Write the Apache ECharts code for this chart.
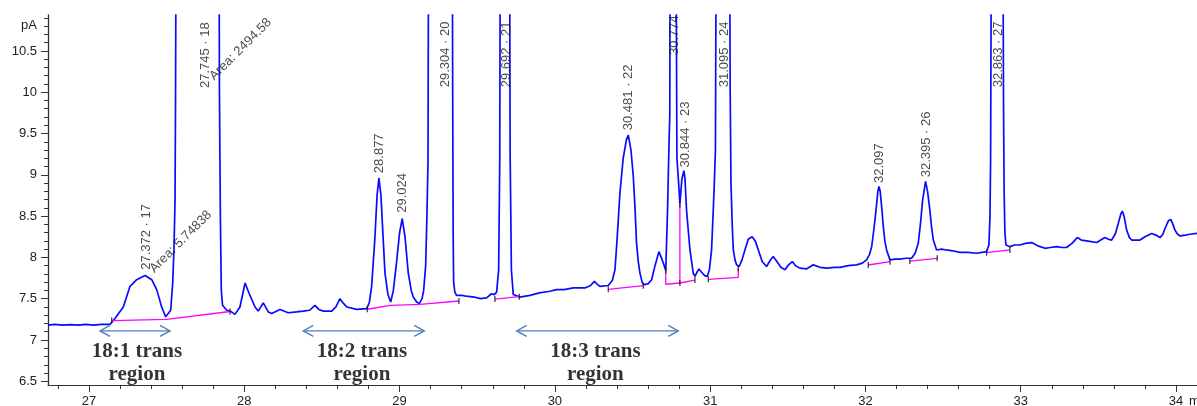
<!DOCTYPE html>
<html><head><meta charset="utf-8">
<script src="https://cdn.jsdelivr.net/npm/echarts@6/dist/echarts.min.js"></script>
<style>html,body{margin:0;padding:0;background:#fff}#c{width:1197px;height:406px}</style>
</head><body><div id="c"></div>
<script>
// ---- data ----
const xTicks = [27, 28, 29, 30, 31, 32, 33, 34];
const yTicks = [6.5, 7, 7.5, 8, 8.5, 9, 9.5, 10, 10.5];

// detector signal [retention time (min), pA]
const signal = [
[26.736,7.18],[26.78,7.19],[26.83,7.18],[26.88,7.185],[26.93,7.18],[26.98,7.19],[27.03,7.18],[27.08,7.19],[27.135,7.19],
[27.167,7.26],[27.221,7.40],[27.264,7.65],[27.307,7.73],[27.361,7.78],[27.404,7.73],[27.436,7.61],[27.468,7.40],[27.494,7.28],[27.50,7.26],
[27.526,7.36],[27.539,7.69],[27.547,8.09],[27.554,8.69],[27.557,9.78],[27.56,11.5],[27.70,30],[27.838,11.5],[27.840,10.0],[27.846,8.5],
[27.852,7.6],[27.86,7.42],[27.887,7.36],[27.91,7.35],[27.94,7.31],[27.972,7.40],[28.005,7.69],[28.032,7.56],[28.069,7.40],[28.09,7.35],
[28.122,7.45],[28.155,7.34],[28.176,7.32],[28.23,7.37],[28.283,7.33],[28.337,7.34],
[28.38,7.35],[28.42,7.36],[28.455,7.42],[28.48,7.37],[28.509,7.35],[28.563,7.35],[28.59,7.40],[28.616,7.50],[28.64,7.44],[28.66,7.40],
[28.724,7.37],[28.788,7.38],[28.805,7.45],[28.82,7.65],[28.84,8.2],[28.855,8.75],[28.867,8.96],[28.88,8.75],[28.895,8.2],[28.906,7.81],
[28.925,7.55],[28.943,7.46],[28.96,7.6],[28.98,7.93],[29.0,8.30],[29.017,8.47],[29.035,8.25],[29.056,7.81],[29.075,7.6],[29.088,7.52],
[29.11,7.46],[29.127,7.44],[29.145,7.50],[29.155,7.60],[29.168,7.9],[29.176,8.5],[29.183,9.15],[29.186,11.5],[29.26,30],[29.340,11.5],
[29.342,10.0],[29.345,8.3],[29.348,7.70],[29.356,7.58],[29.367,7.54],[29.40,7.54],[29.43,7.53],[29.48,7.52],[29.52,7.50],[29.56,7.51],
[29.592,7.56],[29.61,7.55],[29.625,7.58],[29.638,7.85],[29.645,9.18],[29.648,11.5],[29.68,30],[29.709,11.5],[29.712,9.24],[29.72,7.85],
[29.732,7.55],[29.775,7.52],[29.84,7.54],[29.90,7.57],[29.968,7.59],[30.011,7.61],[30.06,7.61],[30.118,7.63],[30.194,7.63],[30.23,7.66],
[30.254,7.71],[30.27,7.68],[30.29,7.65],[30.344,7.66],[30.37,7.72],[30.387,7.85],[30.40,8.2],[30.419,8.78],[30.44,9.20],[30.46,9.42],
[30.473,9.48],[30.49,9.30],[30.505,8.98],[30.516,8.6],[30.526,8.17],[30.537,7.95],[30.548,7.81],[30.562,7.70],[30.574,7.67],[30.60,7.68],
[30.623,7.73],[30.645,7.90],[30.67,8.07],[30.685,8.0],[30.702,7.91],[30.714,7.84],[30.726,8.6],[30.735,9.38],[30.740,9.72],[30.742,11.5],
[30.76,30],[30.781,11.5],[30.786,9.2],[30.797,8.9],[30.805,8.65],[30.818,8.95],[30.831,9.05],[30.838,8.95],[30.848,8.57],[30.87,8.09],
[30.891,7.81],[30.902,7.77],[30.915,7.82],[30.928,7.86],[30.945,7.82],[30.965,7.78],[30.981,7.77],[30.995,7.85],[31.009,8.09],[31.025,8.8],
[31.034,9.3],[31.038,11.5],[31.08,30],[31.126,11.5],[31.129,10.0],[31.134,8.9],[31.142,8.4],[31.149,8.09],[31.16,7.97],[31.17,7.91],
[31.187,7.89],[31.205,7.97],[31.224,8.09],[31.245,8.22],[31.27,8.25],[31.29,8.2],[31.31,8.09],[31.335,7.95],[31.363,7.89],[31.385,7.96],
[31.406,8.01],[31.43,7.95],[31.455,7.88],[31.482,7.85],[31.505,7.91],[31.529,7.95],[31.55,7.90],[31.578,7.87],[31.62,7.86],[31.664,7.91],
[31.707,7.88],[31.75,7.87],[31.80,7.88],[31.836,7.88],[31.89,7.90],[31.943,7.91],[31.98,7.93],[32.007,7.97],[32.025,8.03],[32.04,8.13],
[32.055,8.35],[32.068,8.57],[32.080,8.80],[32.087,8.86],[32.095,8.80],[32.105,8.6],[32.115,8.37],[32.125,8.2],[32.136,8.09],[32.158,7.97],
[32.19,7.98],[32.222,7.98],[32.26,7.99],[32.297,7.99],[32.32,8.05],[32.34,8.17],[32.355,8.42],[32.368,8.69],[32.387,8.92],[32.40,8.8],
[32.415,8.57],[32.425,8.38],[32.437,8.21],[32.458,8.09],[32.49,8.10],[32.522,8.09],[32.56,8.08],[32.608,8.06],[32.66,8.06],[32.716,8.05],
[32.75,8.06],[32.78,8.07],[32.795,8.15],[32.802,8.5],[32.806,9.2],[32.810,11.5],[32.85,30],[32.886,11.5],[32.889,9.9],[32.893,8.8],
[32.898,8.3],[32.905,8.15],[32.93,8.13],[32.96,8.15],[32.995,8.15],[33.03,8.17],[33.07,8.18],[33.11,8.14],[33.156,8.11],[33.19,8.12],
[33.231,8.13],[33.265,8.12],[33.295,8.12],[33.33,8.17],[33.364,8.24],[33.39,8.21],[33.424,8.20],[33.455,8.19],[33.489,8.18],[33.515,8.21],
[33.542,8.24],[33.565,8.22],[33.585,8.21],[33.61,8.29],[33.628,8.41],[33.645,8.53],[33.654,8.56],[33.665,8.50],[33.682,8.33],[33.70,8.24],
[33.714,8.21],[33.74,8.21],[33.768,8.21],[33.80,8.25],[33.843,8.29],[33.87,8.27],[33.897,8.24],[33.915,8.28],[33.929,8.35],[33.95,8.44],
[33.966,8.46],[33.98,8.40],[33.993,8.33],[34.01,8.28],[34.026,8.26],[34.06,8.27],[34.09,8.28],[34.135,8.29]
];

// integration baselines (each a separate segment)
const baselines = [
  [[27.146,7.235],[27.50,7.25],[27.908,7.345]],
  [[28.792,7.372],[28.942,7.42],[29.131,7.432],[29.382,7.472]],
  [[29.614,7.496],[29.771,7.524]],
  [[30.344,7.614],[30.569,7.657]],
  [[30.714,7.84],[30.714,7.675],[30.805,7.69],[30.902,7.725]],
  [[30.805,8.64],[30.805,7.69]],
  [[30.988,7.735],[31.181,7.759],[31.181,7.87]],
  [[32.018,7.908],[32.158,7.948]],
  [[32.286,7.956],[32.462,7.989]],
  [[32.780,8.057],[32.930,8.09]]
];

// peak labels [time, pA at label foot, text]
const peakLabels = [
  [27.373, 7.85, '27.372 · 17'],
  [27.747, 10.05, '27.745 · 18'],
  [28.869, 9.02, '28.877'],
  [29.017, 8.54, '29.024'],
  [29.297, 10.06, '29.304 · 20'],
  [29.685, 10.06, '29.692 · 21'],
  [30.473, 9.54, '30.481 · 22'],
  [30.773, 10.45, '30.774'],
  [30.838, 9.09, '30.844 · 23'],
  [31.095, 10.06, '31.095 · 24'],
  [32.093, 8.90, '32.097'],
  [32.394, 8.97, '32.395 · 26'],
  [32.855, 10.06, '32.863 · 27']
];
const areaLabels = [
  [27.405, 7.84, 'Area: 5.74838'],
  [27.790, 10.17, 'Area: 2494.58']
];

// trans regions: [from, to, pA of arrow]
const regionArrows = [[27.071, 27.522, 7.11], [28.38, 29.159, 7.11], [29.754, 30.795, 7.11]];
const regionTexts = [[27.309, 6.715, '18:1 trans\nregion'], [28.758, 6.715, '18:2 trans\nregion'], [30.261, 6.715, '18:3 trans\nregion']];

// ---- chart ----
const X_MIN = 26.736, X_MAX = 34.135, Y_MIN = 6.455, Y_MAX = 10.935;
const xMinor = [], yMinor = [];
for (let i = 134; i <= 170; i++) { const v = +(i * 0.2).toFixed(1); if (v > X_MIN && v < X_MAX) xMinor.push(v); }
for (let i = 65; i <= 109; i++) { const v = +(i * 0.1).toFixed(1); if (v > Y_MIN && v < Y_MAX) yMinor.push(v); }

const FONT = 'Liberation Sans, Arial, sans-serif';
const AX = '#333';
const chart = echarts.init(document.getElementById('c'), null, {renderer: 'canvas'});

const series = [
  { type: 'line', data: signal, showSymbol: false, clip: true, silent: true, z: 2,
    lineStyle: { color: '#0a0aff', width: 1.7 } }
];
baselines.forEach(seg => series.push({
  type: 'line', data: seg, showSymbol: false, silent: true, z: 3,
  lineStyle: { color: '#ff00ff', width: 1.3 }
}));
series.push({
  type: 'scatter', silent: true, z: 4, symbol: 'rect', symbolSize: [1.3, 6],
  itemStyle: { color: '#111' },
  data: baselines.flatMap(seg => [seg[0], seg[seg.length - 1]])
});
series.push({
  type: 'scatter', silent: true, z: 5, symbolSize: 1, itemStyle: { color: 'rgba(0,0,0,0)' },
  data: peakLabels.map(d => ({ value: [d[0], d[1]], name: d[2] })),
  label: { show: true, position: 'inside', formatter: p => p.name, rotate: 90, align: 'left',
    verticalAlign: 'middle', fontSize: 13, color: '#1a1a1a', fontFamily: FONT }
});
series.push({
  type: 'scatter', silent: true, z: 5, symbolSize: 1, itemStyle: { color: 'rgba(0,0,0,0)' },
  data: areaLabels.map(d => ({ value: [d[0], d[1]], name: d[2] })),
  label: { show: true, position: 'inside', formatter: p => p.name, rotate: 45, align: 'left',
    verticalAlign: 'middle', fontSize: 13, color: '#1a1a1a', fontFamily: FONT }
});
series.push({
  type: 'custom', silent: true, z: 6, data: regionArrows, encode: { x: [0, 1], y: 2 },
  renderItem: (params, api) => {
    const a = api.coord([api.value(0), api.value(2)]);
    const b = api.coord([api.value(1), api.value(2)]);
    const hx = 10, hy = 5.5;
    const style = { stroke: '#4f7fb8', lineWidth: 1.4, fill: null };
    return { type: 'group', children: [
      { type: 'line', shape: { x1: a[0], y1: a[1], x2: b[0], y2: b[1] }, style },
      { type: 'polyline', shape: { points: [[a[0] + hx, a[1] - hy], [a[0], a[1]], [a[0] + hx, a[1] + hy]] }, style },
      { type: 'polyline', shape: { points: [[b[0] - hx, b[1] - hy], [b[0], b[1]], [b[0] - hx, b[1] + hy]] }, style }
    ]};
  }
});
series.push({
  type: 'scatter', silent: true, z: 6, symbolSize: 1, itemStyle: { color: 'rgba(0,0,0,0)' },
  data: regionTexts.map(d => ({ value: [d[0], d[1]], name: d[2] })),
  label: { show: true, position: 'inside', formatter: p => p.name, align: 'center', verticalAlign: 'middle',
    fontSize: 21, fontWeight: 'bold', lineHeight: 23, color: '#000', fontFamily: 'Liberation Serif, Times New Roman, serif' }
});

chart.setOption({
  animation: false,
  backgroundColor: '#fff',
  grid: { left: 48, right: 0, top: 15, bottom: 21, containLabel: false, outerBoundsMode: 'none' },
  xAxis: [{
    type: 'value', min: X_MIN, max: X_MAX,
    axisLine: { show: true, onZero: false, lineStyle: { color: AX, width: 1 } },
    axisTick: { show: true, length: 7, customValues: xTicks, lineStyle: { color: AX } },
    axisLabel: { customValues: xTicks, margin: 10, fontSize: 13, color: '#222', fontFamily: FONT },
    splitLine: { show: false }
  }, {
    type: 'value', min: X_MIN, max: X_MAX, position: 'bottom',
    axisLine: { show: false, onZero: false },
    axisTick: { show: true, length: 4, customValues: xMinor, lineStyle: { color: AX } },
    axisLabel: { show: false }, splitLine: { show: false }
  }],
  yAxis: [{
    type: 'value', min: Y_MIN, max: Y_MAX,
    axisLine: { show: true, onZero: false, lineStyle: { color: AX, width: 1.3 } },
    axisTick: { show: true, length: 7, customValues: yTicks, lineStyle: { color: AX } },
    axisLabel: { customValues: yTicks, margin: 11, fontSize: 13, color: '#222', fontFamily: FONT },
    splitLine: { show: false }
  }, {
    type: 'value', min: Y_MIN, max: Y_MAX, position: 'left',
    axisLine: { show: false, onZero: false },
    axisTick: { show: true, length: 4, customValues: yMinor, lineStyle: { color: AX } },
    axisLabel: { show: false }, splitLine: { show: false }
  }],
  graphic: [
    { type: 'text', x: 37, y: 25, style: { text: 'pA', font: '13px ' + FONT, fill: '#222', textAlign: 'right', textVerticalAlign: 'middle' } },
    { type: 'text', x: 1189, y: 401, style: { text: 'min', font: '13px ' + FONT, fill: '#222', textAlign: 'left', textVerticalAlign: 'middle' } }
  ],
  series
});
</script></body></html>
